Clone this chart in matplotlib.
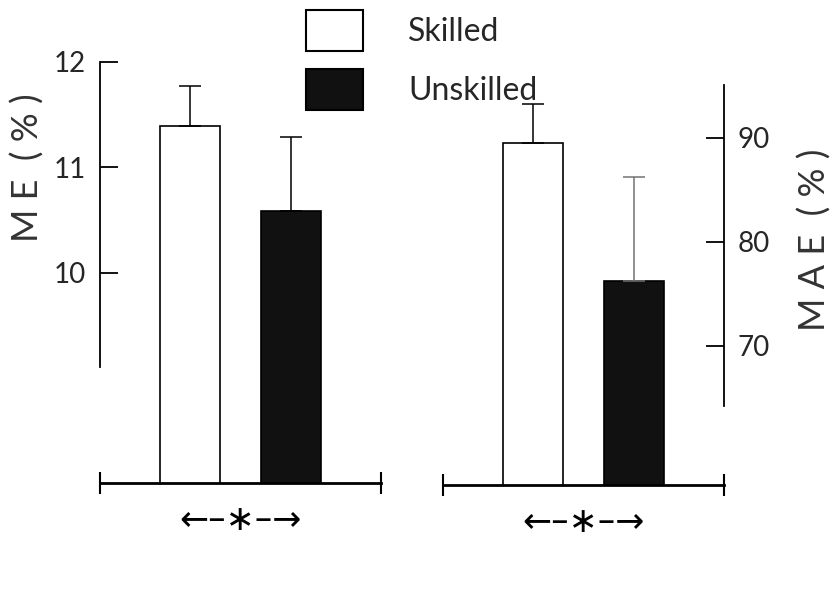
import numpy as np
import matplotlib
matplotlib.use('Agg')
import matplotlib.pyplot as plt
from matplotlib.patches import Patch

groups = ['Skilled', 'Unskilled']
me_mean = [11.39, 10.58]
me_sd = [0.38, 0.71]
mae_mean = [89.5, 76.2]
mae_sd = [3.7, 10.05]

plt.rcParams['font.family'] = ['Lato', 'DejaVu Sans']

W, H = 837, 610
fig = plt.figure(figsize=(W / 100, H / 100), dpi=100)


def box(x0, x1, ybot, ytop):
    # axes rectangle given in pixel coords (origin top-left)
    return [x0 / W, 1 - ybot / H, (x1 - x0) / W, (ybot - ytop) / H]


x = np.arange(len(groups))
colors = ['white', '#111111']


def panel(ax, mean, sd, ylim, bounds, ticks, side, err_colors):
    ax.bar(x, mean, width=0.6, color=colors, edgecolor='black', linewidth=1.2, zorder=2)
    for i in range(len(x)):
        ax.errorbar(x[i], mean[i], yerr=[[0], [sd[i]]], fmt='none', ecolor=err_colors[i],
                    elinewidth=1.1, capsize=8, capthick=1.1, zorder=3)
    ax.set_xlim(-0.9, 1.9)
    ax.set_ylim(*ylim)
    for s in ['top', 'left', 'right']:
        ax.spines[s].set_visible(False)
    ax.spines[side].set_visible(True)
    ax.spines[side].set_bounds(*bounds)
    ax.spines[side].set_linewidth(1.3)
    ax.spines['bottom'].set_linewidth(2)
    ax.set_xticks([-0.9, 1.9])
    ax.set_xticklabels([])
    ax.tick_params(axis='x', direction='inout', length=16, width=1.5)
    ax.set_yticks(ticks)
    ax.tick_params(axis='y', direction='in', length=13, width=1.3, pad=10,
                   labelsize=20, labelcolor='0.15',
                   left=(side == 'left'), labelleft=(side == 'left'),
                   right=(side == 'right'), labelright=(side == 'right'))
    ax.annotate('\u2190\u2013\u2217\u2013\u2192', xy=(0.5, 0), xycoords='axes fraction',
                xytext=(0, -37), textcoords='offset pixels', ha='center', va='center',
                fontsize=25, family='DejaVu Sans')
    ax.patch.set_visible(False)


ax1 = fig.add_axes(box(100, 381, 483, 62))
panel(ax1, me_mean, me_sd, (8.0, 12.0), (9.1, 12.0), [10, 11, 12], 'left',
      ['black', 'black'])

ax2 = fig.add_axes(box(443, 724, 485, 62))
panel(ax2, mae_mean, mae_sd, (56.6, 97.27), (64.2, 95.1), [70, 80, 90], 'right',
      ['black', '0.45'])

fig.text(28 / W, 1 - 168 / H, 'M E  ( % )', rotation=90, ha='center', va='center',
         fontsize=26, color='0.2')
fig.text(815 / W, 1 - 240 / H, 'M A E  ( % )', rotation=90, ha='center', va='center',
         fontsize=26, color='0.2')

handles = [Patch(facecolor=c, edgecolor='black', linewidth=1.5) for c in colors]
fig.legend(handles, groups, loc='upper left', bbox_to_anchor=(306 / W, 1 - 10 / H),
           frameon=False, fontsize=23, labelcolor='0.15', borderpad=0, borderaxespad=0,
           handlelength=1.8, handleheight=1.6, handletextpad=1.4, labelspacing=0.55)

fig.savefig('out.png', dpi=100)
